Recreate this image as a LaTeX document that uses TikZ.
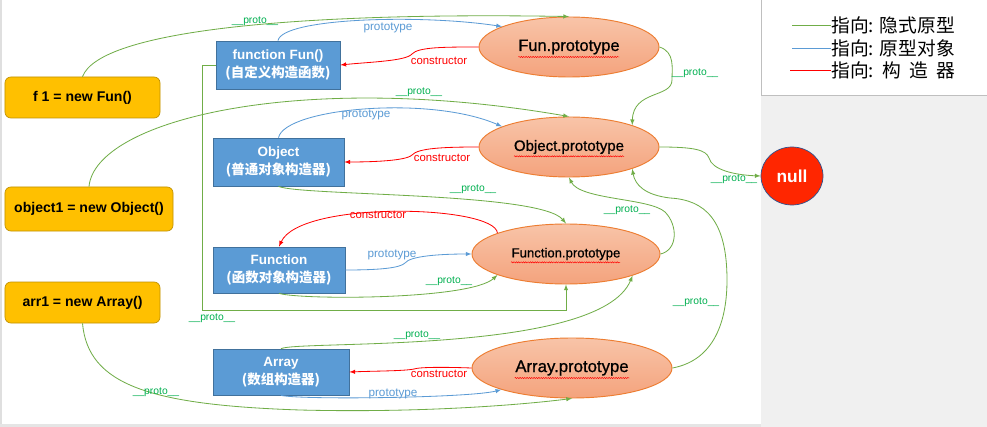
\documentclass[tikz,border=0pt]{standalone}
\usepackage{fontspec}
\setmainfont{Liberation Sans}
\newfontfamily\cjk{Noto Sans CJK SC}
\newfontfamily\semibold[FakeBold=0.8]{Liberation Sans}
\usetikzlibrary{shapes.geometric, decorations.pathmorphing}
\definecolor{instfill}{HTML}{FFC000}
\definecolor{instdraw}{HTML}{BF9000}
\definecolor{ctorfill}{HTML}{5B9BD5}
\definecolor{ctordraw}{HTML}{41719C}
\definecolor{prototop}{HTML}{F8C4A8}
\definecolor{protobot}{HTML}{F4A37D}
\definecolor{protodraw}{HTML}{ED7D31}
\definecolor{linkgreen}{HTML}{70AD47}
\definecolor{textgreen}{HTML}{00B050}
\definecolor{linkblue}{HTML}{5B9BD5}
\definecolor{nullfill}{HTML}{FF2600}
\definecolor{nulldraw}{HTML}{2F528F}
\newcommand{\pr}{\_\_proto\_\_}

\begin{document}
\begin{tikzpicture}[x=0.03cm, y=-0.03cm,
    inst/.style={draw=instdraw, fill=instfill, rounded corners=5pt, line width=0.6pt,
        inner sep=0pt, font=\fontsize{12}{14}\selectfont\bfseries},
    ctor/.style={draw=ctordraw, fill=ctorfill, text=white, line width=0.6pt, align=center,
        inner sep=0pt, font=\fontsize{11.5}{15.3}\selectfont\bfseries},
    protoobj/.style={ellipse, draw=protodraw, top color=prototop, bottom color=protobot,
        line width=0.8pt, inner sep=0pt, minimum height=1.8cm},
    squig/.style={red, line width=0.4pt, decorate,
        decoration={snake, amplitude=0.5pt, segment length=2pt}},
    gline/.style={draw=linkgreen, line width=0.7pt, -latex},
    bline/.style={draw=linkblue, line width=0.7pt, -latex},
    rline/.style={draw=red, line width=0.7pt, -latex},
    lblg/.style={text=textgreen, inner sep=0pt, font=\fontsize{8.8}{10}\selectfont},
    lblb/.style={text=linkblue, inner sep=0pt, font=\fontsize{10}{11}\selectfont},
    lblr/.style={text=red, inner sep=0pt, font=\fontsize{9.7}{11}\selectfont},
    legtext/.style={right, text=black, inner sep=0pt, font=\fontsize{16}{18}\selectfont\cjk}]

    \useasboundingbox (0,0) rectangle (987,427);

    % Background and legend panel
    \fill[white] (0,0) rectangle (987,427);
    \fill[gray!12] (761,95) rectangle (987,427);
    \fill[gray!20] (0,424) rectangle (761,427);
    \draw[gray!25, line width=1.5pt] (1,0) -- (1,424);
    \draw[gray!50, line width=0.6pt] (761,0) -- (761,95) -- (987,95);

    \draw[linkgreen, line width=0.8pt] (792,25) -- (831,25) node[legtext] {指向: 隐式原型};
    \draw[linkblue, line width=0.8pt] (792,48) -- (831,48) node[legtext] {指向: 原型对象};
    \draw[red, line width=0.8pt] (790,70) -- (831,70)
        node[legtext] {指向: \hspace{0.15em}构\hspace{0.45em}造\hspace{0.45em}器};

    % Instances
    \node[inst, minimum width=4.65cm, minimum height=1.23cm] (f1) at (82.5,97.5) {f 1 = new Fun()};
    \node[inst, minimum width=5.04cm, minimum height=1.32cm] (obj1) at (89,209) {object1 = new Object()};
    \node[inst, minimum width=4.65cm, minimum height=1.23cm] (arr1) at (82.5,302.5) {arr1 = new Array()};

    % Constructors
    \node[ctor, minimum width=3.72cm, minimum height=1.44cm] (funbox) at (278,65)
        {function Fun()\\{\cjk (自定义构造函数)}};
    \node[ctor, minimum width=3.93cm, minimum height=1.44cm] (objbox) at (278.5,162)
        {Object\\{\cjk (普通对象构造器)}};
    \node[ctor, minimum width=3.96cm, minimum height=1.38cm] (fnbox) at (279,270)
        {Function\\{\cjk (函数对象构造器)}};
    \node[ctor, minimum width=4.08cm, minimum height=1.38cm] (arbox) at (281,372)
        {Array\\{\cjk (数组构造器)}};

    % Prototype objects
    \node[protoobj, minimum width=5.4cm, font=\fontsize{14}{16}\selectfont\semibold] (funp) at (569,47) {Fun.prototype};
    \node[protoobj, minimum width=5.4cm, font=\fontsize{12.8}{15}\selectfont\semibold] (objp) at (569,147) {Object.prototype};
    \node[protoobj, minimum width=5.64cm, font=\fontsize{11.2}{13}\selectfont\semibold] (fnp) at (566,254) {Function.prototype};
    \node[protoobj, minimum width=6cm, font=\fontsize{14.3}{16}\selectfont\semibold] (arp) at (572,368) {Array.prototype};
    \draw[squig] ([xshift=-1.52cm, yshift=-0.3cm]funp.center) -- ++(101,0);
    \draw[squig] ([xshift=-1.65cm, yshift=-0.28cm]objp.center) -- ++(110,0);
    \draw[squig] ([xshift=-1.65cm, yshift=-0.25cm]fnp.center) -- ++(109,0);
    \draw[squig] ([xshift=-1.72cm, yshift=-0.3cm]arp.center) -- ++(115,0);

    \node[ellipse, draw=nulldraw, fill=nullfill, line width=0.6pt, inner sep=0pt,
        minimum width=1.86cm, minimum height=1.74cm, text=white,
        font=\fontsize{14.8}{16}\selectfont\bfseries] (nul) at (792,176) {null};

    % __proto__ links
    \draw[gline] (f1.north) .. controls (100,30) and (300,12) .. (funp.north);
    \draw[gline] (funp.east) .. controls (675,52) and (672,68) .. (672,80)
        .. controls (672,98) and (633,90) .. (objp.19);
    \draw[gline] (funbox.west) -| (202,310) -| (fnp.south);
    \draw[gline] (obj1.north) .. controls (95,120) and (300,70) .. (objp.north);
    \draw[gline] (objp.east) .. controls (695,147) and (706,150) .. (709,158)
        .. controls (712,170) and (735,175) .. (nul.west);
    \draw[gline] (objbox.south) .. controls (300,196) and (540,192) .. (fnp.north);
    \draw[gline] (fnbox.south) .. controls (300,300) and (470,300) .. (fnp.-163);
    \draw[gline] (fnp.east) .. controls (678,250) and (678,225) .. (665,212)
        .. controls (650,198) and (580,200) .. (objp.south);
    \draw[gline] (arp.east) .. controls (715,360) and (727,320) .. (727,280)
        .. controls (727,220) and (705,200) .. (670,198)
        .. controls (645,195) and (635,185) .. (objp.-19);
    \draw[gline] (arbox.north) .. controls (300,340) and (600,355) .. (fnp.-18);
    \draw[gline] (arr1.south) .. controls (88,385) and (150,405) .. (300,410)
        .. controls (420,413) and (520,405) .. (arp.south);

    % prototype links
    \draw[bline] (funbox.north) .. controls (282,18) and (420,14) .. (funp.163);
    \draw[bline] (objbox.north) .. controls (285,108) and (430,95) .. (objp.163);
    \draw[bline] (fnbox.east) .. controls (380,270) and (400,268) .. (405,263)
        .. controls (410,256) and (440,254) .. (fnp.west);
    \draw[bline] (arbox.south) .. controls (300,400) and (470,398) .. (arp.-163);

    % constructor links
    \draw[rline] (funp.west) .. controls (445,47) and (418,47) .. (412,54)
        .. controls (406,61) and (370,62) .. (funbox.east);
    \draw[rline] (objp.west) .. controls (445,147) and (418,148) .. (412,155)
        .. controls (406,161) and (370,162) .. (objbox.east);
    \draw[rline] (fnp.163) .. controls (495,205) and (300,200) .. (fnbox.north);
    \draw[rline] (arp.west) .. controls (445,367) and (420,367) .. (414,369)
        .. controls (405,371) and (375,371) .. (arbox.east);

    % Labels
    \node[lblg] (p1) at (255,21) {\pr};
    \node[lblg] (p2) at (695,73) {\pr};
    \node[lblg] (p3) at (212,318) {\pr};
    \node[lblg] (p4) at (419,92) {\pr};
    \node[lblg] (p5) at (734,179) {\pr};
    \node[lblg] (p6) at (473,189) {\pr};
    \node[lblg] (p7) at (449,281) {\pr};
    \node[lblg] (p8) at (627,210) {\pr};
    \node[lblg] (p9) at (696,302) {\pr};
    \node[lblg] (p10) at (417,335) {\pr};
    \node[lblg] (p11) at (156,392) {\pr};
    \node[lblb] (t1) at (388,28) {prototype};
    \node[lblb] (t2) at (366,115) {prototype};
    \node[lblb] (t3) at (392,255) {prototype};
    \node[lblb] (t4) at (393,394) {prototype};
    \node[lblr] (c1) at (439,61) {constructor};
    \node[lblr] (c2) at (442,158) {constructor};
    \node[lblr] (c3) at (378,215) {constructor};
    \node[lblr] (c4) at (439,374) {constructor};
\end{tikzpicture}
\end{document}
